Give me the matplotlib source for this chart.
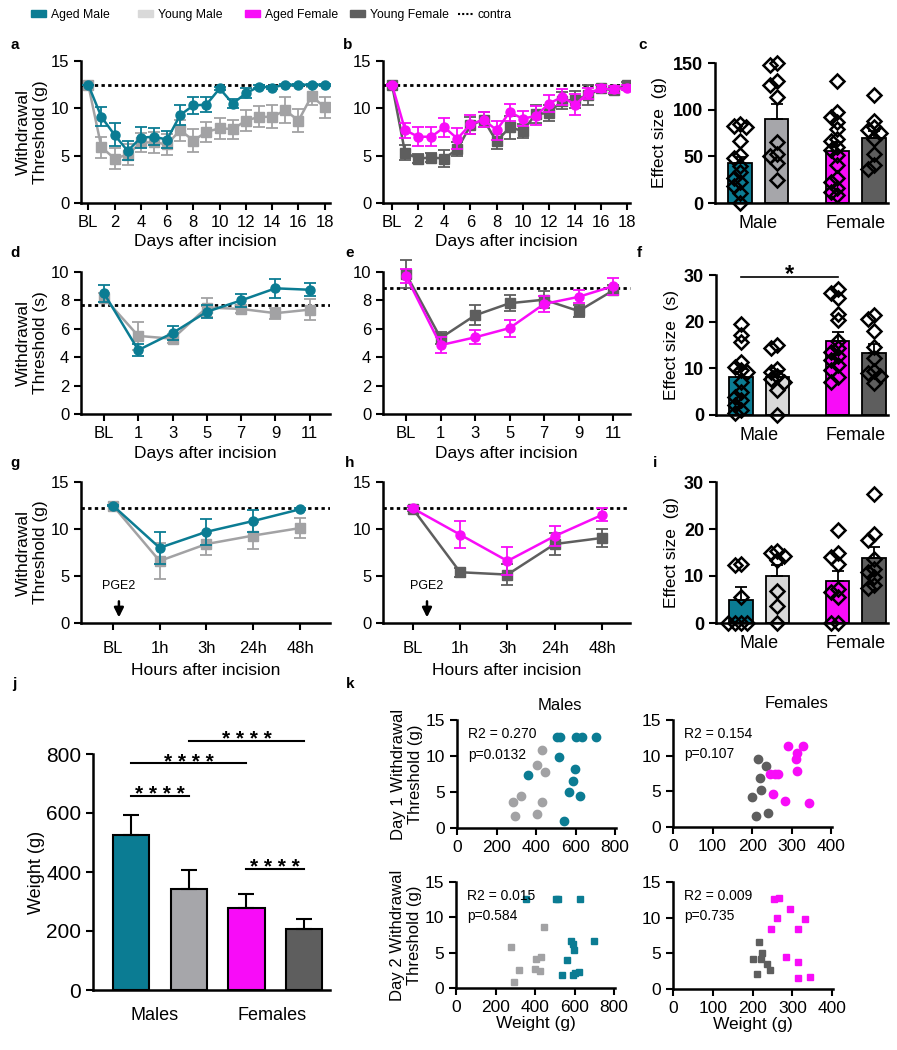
import numpy as np
import matplotlib
matplotlib.use('Agg')
import matplotlib.pyplot as plt
from matplotlib.patches import Patch
from matplotlib.lines import Line2D

plt.rcParams['font.family'] = ['Liberation Sans', 'DejaVu Sans']

# colours
TEAL = '#0B7C93'
GREY_LINE = '#A2A2A4'
GREY_BAR = '#A6A6AA'
LIGHT = '#D9D9D9'
MAG = '#F80CF8'
DARK = '#5E5E5E'

# ---------------- data ----------------
# a: mechanical threshold, days after incision (BL = 0)
days_a = list(range(19))
days_a_ticks = ['BL', '2', '4', '6', '8', '10', '12', '14', '16', '18']
am_a = [12.5, 9.1, 7.2, 5.5, 6.9, 7.0, 6.7, 9.3, 10.3, 10.4, 12.1, 10.5, 11.6, 12.3, 12.2, 12.5, 12.5, 12.5, 12.5]
am_a_err = [0, 1.0, 1.2, 1.0, 1.1, 0.9, 0.9, 1.1, 0.9, 0.8, 0.2, 0.5, 0.5, 0.2, 0.2, 0.1, 0.1, 0.1, 0.1]
ym_a = [12.5, 5.9, 4.7, 5.1, 6.4, 6.4, 6.2, 7.7, 6.6, 7.5, 7.9, 7.8, 8.7, 9.1, 9.1, 9.8, 8.7, 11.3, 10.1]
ym_a_err = [0, 1.1, 1.1, 1.1, 1.0, 1.1, 1.1, 1.1, 1.2, 1.1, 1.1, 1.0, 1.1, 1.1, 1.2, 1.4, 1.2, 1.0, 1.1]
contra_a = 12.5

# b
af_b = [12.5, 7.7, 7.0, 7.0, 8.0, 6.8, 8.3, 8.8, 7.7, 9.6, 8.9, 9.2, 10.5, 11.2, 10.4, 11.6, 12.1, 12.0, 12.2]
af_b_err = [0.1, 0.8, 1.0, 1.0, 1.0, 1.1, 1.0, 0.8, 1.0, 0.9, 0.8, 1.0, 0.9, 0.8, 1.1, 0.6, 0.4, 0.4, 0.3]
yf_b = [12.5, 5.3, 4.7, 4.8, 4.7, 5.7, 8.2, 8.8, 6.5, 8.0, 7.6, 9.4, 9.5, 10.8, 10.9, 11.4, 12.1, 11.9, 12.5]
yf_b_err = [0.1, 0.8, 0.5, 0.5, 0.9, 0.7, 0.9, 0.8, 0.8, 1.2, 0.7, 0.9, 0.8, 0.9, 0.9, 1.1, 0.4, 0.4, 0.3]
contra_b = 12.5

# c: effect size (g)
c_means = [42.5, 90, 56, 69.5]
c_err = [7, 16, 9, 7.5]
c_pts = [
    [85, 83, 81, 66, 51, 48, 40, 33, 27, 23, 18, 11, 0],
    [150, 148, 131, 126, 114, 65, 53, 50, 43, 25],
    [131, 98, 92, 87, 79, 69, 66, 60, 57, 51, 41, 27, 23, 16, 12, 9],
    [116, 88, 81, 78, 75, 69, 53, 41, 36],
]

# d / e: thermal threshold (s)
days_d = ['BL', '1', '3', '5', '7', '9', '11']
am_d = [8.5, 4.5, 5.7, 7.2, 8.0, 8.85, 8.75]
am_d_err = [0.6, 0.45, 0.5, 0.45, 0.45, 0.65, 0.45]
ym_d = [8.2, 5.5, 5.3, 7.5, 7.4, 7.1, 7.35]
ym_d_err = [0.3, 1.0, 0.3, 0.7, 0.3, 0.4, 0.75]
contra_d = 7.7
af_e = [9.7, 4.85, 5.4, 6.05, 7.75, 8.25, 9.0]
af_e_err = [0.5, 0.55, 0.5, 0.6, 0.55, 0.45, 0.6]
yf_e = [9.85, 5.35, 6.95, 7.8, 8.05, 7.25, 8.7]
yf_e_err = [1.0, 0.45, 0.7, 0.55, 0.6, 0.45, 0.35]
contra_e = 8.9

# f: effect size (s)
f_means = [8.2, 8.2, 15.9, 13.3]
f_err = [1.7, 1.2, 1.8, 2.0]
f_pts = [
    [19.4, 17.1, 15.7, 11.4, 10.3, 9.6, 9.3, 7.1, 5.0, 3.9, 3.2, 2.1, 1.1, 0.4],
    [15.0, 14.3, 9.8, 9.3, 8.3, 7.8, 7.1, 5.3, 0],
    [27.0, 26.2, 25.0, 21.7, 20.3, 15.9, 14.3, 13.5, 12.6, 11.8, 10.7, 9.6, 8.2, 7.1],
    [21.4, 20.5, 18.0, 14.6, 12.3, 9.5, 9.0, 8.3, 6.8],
]

# g / h: PGE2 time course
hours = ['BL', '1h', '3h', '24h', '48h']
am_g = [12.5, 8.0, 9.7, 10.85, 12.1]
am_g_err = [0.1, 1.7, 1.35, 1.2, 0.1]
ym_g = [12.5, 6.6, 8.4, 9.3, 10.1]
ym_g_err = [0.1, 1.9, 1.2, 1.45, 1.1]
contra_g = 12.2
af_h = [12.2, 9.4, 6.6, 9.25, 11.5]
af_h_err = [0.2, 1.4, 1.5, 1.1, 0.7]
yf_h = [12.15, 5.4, 5.15, 8.4, 9.05]
yf_h_err = [0.2, 0.5, 1.1, 1.15, 1.0]
contra_h = 12.2

# i: effect size (g)
i_means = [5.0, 10.0, 8.9, 13.9]
i_err = [2.6, 2.4, 2.2, 2.2]
i_pts = [
    [12.5, 12.3, 5.5, 0, 0, 0, 0],
    [15.3, 14.8, 14.3, 13.3, 6.9, 3.7, 0],
    [19.8, 15.0, 14.0, 12.6, 7.3, 6.6, 5.5, 0, 0],
    [27.5, 18.9, 17.7, 13.6, 11.5, 10.8, 9.8, 8.0, 7.5],
]

# j: weight
j_means = [525, 341, 277, 206]
j_err = [68, 66, 48, 34]
j_sig = [(0, 1, 658), (0, 2, 768), (1, 3, 844), (2, 3, 410)]

# k: weight vs threshold
k1_am_w = [508, 520, 601, 633, 705, 517, 359, 597, 586, 567, 624, 540]
k1_am_t = [12.7, 12.7, 12.7, 12.7, 12.7, 9.9, 7.3, 8.2, 6.5, 5.0, 4.5, 1.0]
k1_ym_w = [428, 406, 446, 322, 282, 430, 294, 403]
k1_ym_t = [10.9, 8.8, 7.8, 4.5, 3.6, 3.6, 1.6, 1.9]
k1_af_w = [292, 328, 314, 312, 314, 244, 259, 265, 253, 284, 343]
k1_af_t = [11.4, 11.4, 10.4, 9.5, 7.9, 7.4, 7.4, 7.4, 4.6, 3.7, 3.3]
k1_yf_w = [215, 234, 221, 223, 200, 240, 209]
k1_yf_t = [9.5, 8.6, 6.9, 5.2, 4.2, 2.0, 1.6]
k2_am_w = [356, 507, 517, 629, 582, 591, 599, 564, 537, 594, 604, 621, 701]
k2_am_t = [12.6, 12.6, 12.6, 12.6, 6.7, 6.2, 5.4, 3.9, 1.9, 1.9, 2.1, 2.3, 6.7]
k2_ym_w = [445, 280, 403, 430, 319, 398, 426, 292]
k2_ym_t = [8.7, 5.8, 4.1, 4.4, 2.5, 2.7, 2.4, 0.9]
k2_af_w = [254, 266, 294, 262, 331, 247, 315, 285, 313, 315, 344]
k2_af_t = [12.6, 12.7, 11.2, 10.0, 9.8, 8.4, 8.4, 4.5, 3.8, 1.6, 1.7]
k2_yf_w = [216, 224, 202, 222, 236, 243, 211]
k2_yf_t = [6.6, 5.0, 4.2, 4.2, 3.5, 2.7, 2.1]
k_stats = [('R2 = 0.270', 'p=0.0132'), ('R2 = 0.154', 'p=0.107'),
           ('R2 = 0.015', 'p=0.584'), ('R2 = 0.009', 'p=0.735')]

legend_names = ['Aged Male', 'Young Male', 'Aged Female', 'Young Female', 'contra']

# ---------------- figure ----------------
W, H = 897, 1050
fig = plt.figure(figsize=(W / 100, H / 100), dpi=100)


def add_ax(l, t, r, b):
    return fig.add_axes([l / W, 1 - b / H, (r - l) / W, (b - t) / H])


def style(ax, size=12):
    for s in ['top', 'right']:
        ax.spines[s].set_visible(False)
    for s in ['left', 'bottom']:
        ax.spines[s].set_linewidth(1.8)
    ax.tick_params(width=1.5, length=5, labelsize=size)


def timecourse(ax, young, yerr, ycol, aged, aerr, acol, contra, labels, step=1):
    x = np.arange(len(young))
    ax.axhline(contra, color='black', ls=(0, (1.2, 1.2)), lw=2, zorder=1)
    ax.errorbar(x, young, yerr=yerr, color=ycol, marker='s', ms=6.5, lw=1.8,
                capsize=4, elinewidth=1.3, capthick=1.3, zorder=2)
    ax.errorbar(x, aged, yerr=aerr, color=acol, marker='o', ms=6.5, lw=1.8,
                capsize=4, elinewidth=1.3, capthick=1.3, zorder=3)
    ax.set_xticks(x[::step])
    ax.set_xticklabels(labels)
    style(ax)


def swarm(vals, span, step):
    placed, offs = [], []
    for v in vals:
        for o in [0, -step, step, -2 * step, 2 * step, -3 * step, 3 * step]:
            if all(abs(o - po) > step * 0.9 or abs(v - pv) > span for pv, po in placed):
                break
        placed.append((v, o))
        offs.append(o)
    return offs


def effect(ax, means, errs, pts, colors, top, ylabel):
    pos = [0, 1, 2.65, 3.65]
    ax.bar(pos, means, width=0.64, color=colors, edgecolor='black', lw=1.3, zorder=1)
    ax.errorbar(pos, means, yerr=[[0] * 4, errs], fmt='none', ecolor='black',
                elinewidth=1.3, capsize=4, capthick=1.3, zorder=2)
    for p, v in zip(pos, pts):
        off = swarm(v, top * 0.045, 0.17)
        ax.plot(np.array(off) + p, v, ls='none', marker='D', ms=7, mfc='none',
                mec='black', mew=1.8, zorder=3, clip_on=False)
    ax.set_xlim(-0.68, 4.03)
    ax.set_ylim(0, top)
    ax.set_xticks([0.5, 3.15])
    ax.set_xticklabels(['Male', 'Female'], fontsize=12.5)
    ax.set_ylabel(ylabel, fontsize=12.5)
    style(ax, size=13)
    ax.tick_params(axis='x', length=0, pad=9)
    for t in ax.get_yticklabels():
        t.set_fontweight('bold')


# a
ax = add_ax(81, 61, 330, 203)
timecourse(ax, ym_a, ym_a_err, GREY_LINE, am_a, am_a_err, TEAL, contra_a, days_a_ticks, step=2)
ax.set_xlim(-0.55, 18.4)
ax.set_ylim(0, 15)
ax.set_yticks([0, 5, 10, 15])
ax.set_ylabel('Withdrawal\nThreshold (g)', fontsize=12.5, labelpad=2)
ax.set_xlabel('Days after incision', fontsize=12.5, labelpad=3)

# b
ax = add_ax(383, 61, 630, 203)
timecourse(ax, yf_b, yf_b_err, DARK, af_b, af_b_err, MAG, contra_b, days_a_ticks, step=2)
ax.set_xlim(-0.69, 18.2)
ax.set_ylim(0, 15)
ax.set_yticks([0, 5, 10, 15])
ax.set_xlabel('Days after incision', fontsize=12.5, labelpad=3)

# c
ax = add_ax(715, 63, 888, 203)
effect(ax, c_means, c_err, c_pts, [TEAL, GREY_BAR, MAG, DARK], 150, 'Effect size  (g)')
ax.set_yticks([0, 50, 100, 150])

# d
ax = add_ax(81, 272, 330, 414)
timecourse(ax, ym_d, ym_d_err, GREY_LINE, am_d, am_d_err, TEAL, contra_d, days_d)
ax.set_xlim(-0.67, 6.59)
ax.set_ylim(0, 10)
ax.set_yticks([0, 2, 4, 6, 8, 10])
ax.set_ylabel('Withdrawal\nThreshold (s)', fontsize=12.5, labelpad=2)
ax.set_xlabel('Days after incision', fontsize=12.5, labelpad=4)

# e
ax = add_ax(383, 272, 630, 414)
timecourse(ax, yf_e, yf_e_err, DARK, af_e, af_e_err, MAG, contra_e, days_d)
ax.set_xlim(-0.67, 6.49)
ax.set_ylim(0, 10)
ax.set_yticks([0, 2, 4, 6, 8, 10])
ax.set_xlabel('Days after incision', fontsize=12.5, labelpad=4)
for ln in ax.lines + [c for c in ax.collections]:
    ln.set_clip_on(False)

# f
ax = add_ax(716, 275, 888, 415)
effect(ax, f_means, f_err, f_pts, [TEAL, LIGHT, MAG, DARK], 30, 'Effect size  (s)')
ax.set_yticks([0, 10, 20, 30])
ax.plot([0, 2.65], [29.6, 29.6], color='black', lw=1.2, clip_on=False)
ax.text(1.32, 28.7, '*', ha='center', va='baseline', fontsize=17, fontweight='bold')

# g
ax = add_ax(81, 482, 330, 623)
timecourse(ax, ym_g, ym_g_err, GREY_LINE, am_g, am_g_err, TEAL, contra_g, hours)
ax.set_xlim(-0.68, 4.64)
ax.set_ylim(0, 15)
ax.set_yticks([0, 5, 10, 15])
ax.set_ylabel('Withdrawal\nThreshold (g)', fontsize=12.5, labelpad=2)
ax.set_xlabel('Hours after incision', fontsize=12.5, labelpad=5)
ax.tick_params(axis='x', pad=8)
ax.annotate('', xy=(0.13, 0.3), xytext=(0.13, 2.6),
            arrowprops=dict(arrowstyle='-|>', color='black', lw=1.8, mutation_scale=14))
ax.text(0.13, 3.3, 'PGE2', ha='center', va='bottom', fontsize=9)

# h
ax = add_ax(383, 482, 630, 623)
timecourse(ax, yf_h, yf_h_err, DARK, af_h, af_h_err, MAG, contra_h, hours)
ax.set_xlim(-0.63, 4.59)
ax.set_ylim(0, 15)
ax.set_yticks([0, 5, 10, 15])
ax.set_xlabel('Hours after incision', fontsize=12.5, labelpad=5)
ax.tick_params(axis='x', pad=8)
ax.annotate('', xy=(0.3, 0.3), xytext=(0.3, 2.6),
            arrowprops=dict(arrowstyle='-|>', color='black', lw=1.8, mutation_scale=14))
ax.text(0.3, 3.3, 'PGE2', ha='center', va='bottom', fontsize=9)

# i
ax = add_ax(716, 482, 888, 623)
effect(ax, i_means, i_err, i_pts, [TEAL, LIGHT, MAG, DARK], 30, 'Effect size  (g)')
ax.set_yticks([0, 10, 20, 30])

# j
ax = add_ax(93, 754, 330, 990)
jpos = np.arange(4)
ax.bar(jpos, j_means, width=0.63, color=[TEAL, GREY_BAR, MAG, DARK], edgecolor='black', lw=1.5)
ax.errorbar(jpos, j_means, yerr=[[0] * 4, j_err], fmt='none', ecolor='black',
            elinewidth=1.5, capsize=6, capthick=1.5)
for a, b, y in j_sig:
    ax.plot([jpos[a], jpos[b]], [y, y], color='black', lw=1.5, clip_on=False)
    ax.text((jpos[a] + jpos[b]) / 2, y - 14, '* * * *', ha='center', va='baseline',
            fontsize=15, fontweight='bold')
ax.set_xlim(-0.66, 3.45)
ax.set_ylim(0, 800)
ax.set_yticks([0, 200, 400, 600, 800])
ax.set_xticks([0.4, 2.45])
ax.set_xticklabels(['Males', 'Females'], fontsize=13)
ax.set_ylabel('Weight (g)', fontsize=13, labelpad=1)
style(ax, size=15)
ax.tick_params(axis='x', length=0, pad=12, labelsize=13)

# k
k_boxes = [(457, 720, 616, 828), (673, 720, 832, 827), (456, 882, 615, 988), (673, 882, 833, 989)]
k_data = [
    [(k1_ym_w, k1_ym_t, GREY_LINE), (k1_am_w, k1_am_t, TEAL)],
    [(k1_yf_w, k1_yf_t, DARK), (k1_af_w, k1_af_t, MAG)],
    [(k2_ym_w, k2_ym_t, GREY_LINE), (k2_am_w, k2_am_t, TEAL)],
    [(k2_yf_w, k2_yf_t, DARK), (k2_af_w, k2_af_t, MAG)],
]
for n, (box, sets, stats) in enumerate(zip(k_boxes, k_data, k_stats)):
    ax = add_ax(*box)
    mk, ms = ('o', 6) if n < 2 else ('s', 4)
    for wts, thr, col in sets:
        ax.plot(wts, thr, ls='none', marker=mk, ms=ms, color=col, clip_on=False)
    if n % 2 == 0:
        ax.set_xlim(0, 805)
        ax.set_xticks([0, 200, 400, 600, 800])
    else:
        ax.set_xlim(0, 402)
        ax.set_xticks([0, 100, 200, 300, 400])
    ax.set_ylim(0, 15)
    ax.set_yticks([0, 5, 10, 15])
    style(ax, size=12.5)
    ax.text(0.07, 0.87, stats[0], transform=ax.transAxes, fontsize=10, va='center')
    ax.text(0.07, 0.68, stats[1], transform=ax.transAxes, fontsize=10, va='center')
    if n == 0:
        ax.set_ylabel('Day 1 Withdrawal\nThreshold (g)', fontsize=12, labelpad=2)
    if n == 2:
        ax.set_ylabel('Day 2 Withdrawal\nThreshold (g)', fontsize=12, labelpad=2)
    if n >= 2:
        ax.set_xlabel('Weight (g)', fontsize=12.5, labelpad=1)

fig.text(560 / W, 1 - 705 / H, 'Males', ha='center', va='center', fontsize=12)
fig.text(797 / W, 1 - 703 / H, 'Females', ha='center', va='center', fontsize=12)

# panel letters
letters = [('a', 10, 45), ('b', 343, 45), ('c', 638, 45), ('d', 10, 253), ('e', 345, 253),
           ('f', 637, 253), ('g', 10, 463), ('h', 345, 463), ('i', 653, 463), ('j', 12, 684),
           ('k', 346, 684)]
for lt, x, y in letters:
    fig.text(x / W, 1 - y / H, lt, fontsize=11, fontweight='bold', va='center', ha='left')

# legend: one entry per slot, as in the reference
handles = [Patch(color=TEAL), Patch(color=LIGHT), Patch(color=MAG), Patch(color=DARK),
           Line2D([], [], color='black', ls=(0, (1, 1)), lw=1.5)]
slots = [31, 138, 245, 350, 458]
for h, name, x in zip(handles, legend_names, slots):
    fig.legend([h], [name], loc='center left', bbox_to_anchor=(x / W, 1 - 15 / H),
               frameon=False, handlelength=1.2, handleheight=0.55, handletextpad=0.4,
               borderpad=0, borderaxespad=0, fontsize=8.8)

fig.savefig('out.png', dpi=100)
